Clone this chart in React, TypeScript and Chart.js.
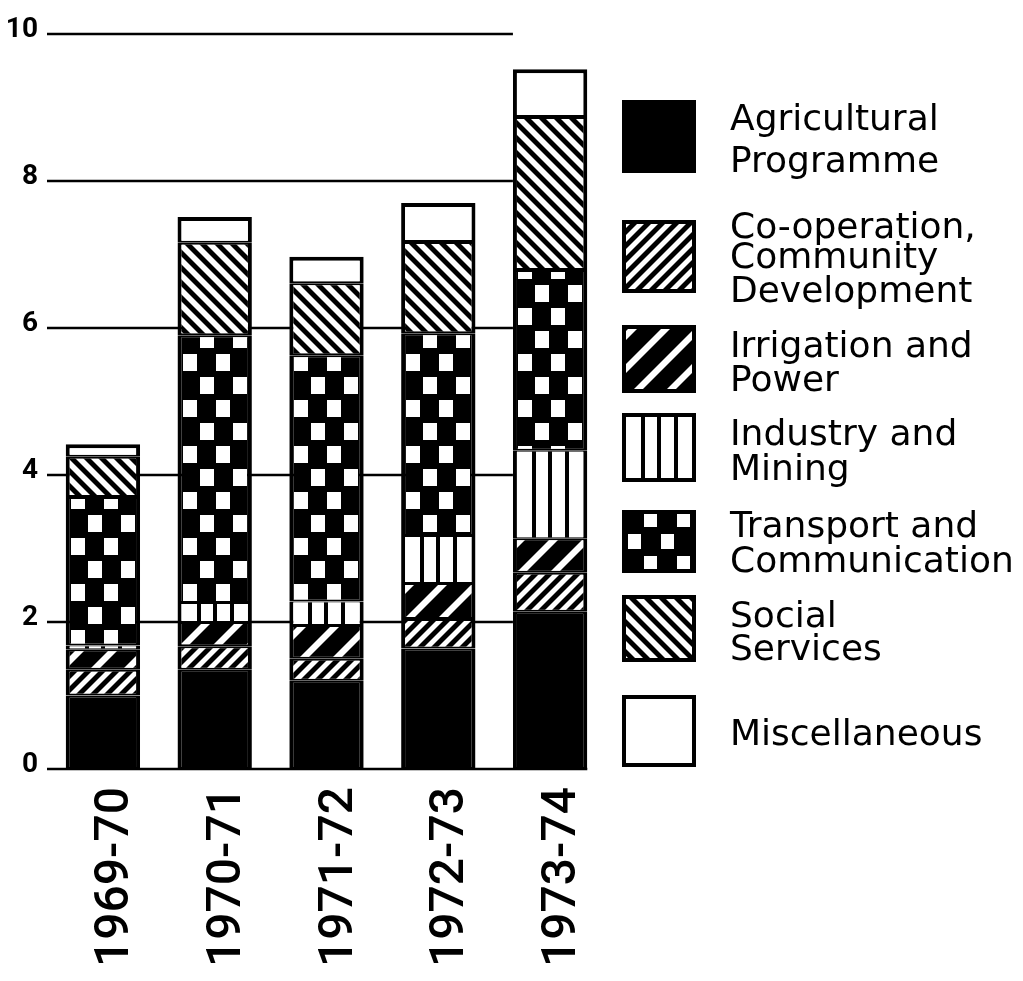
import React, { useEffect, useRef } from 'react';
import { Chart, registerables } from 'chart.js';

Chart.register(...registerables);

// ---------- data ----------
const years = ['1969-70', '1970-71', '1971-72', '1972-73', '1973-74'];
const agricultural = [1.0, 1.35, 1.2, 1.64, 2.14];
const cooperation = [0.35, 0.32, 0.3, 0.4, 0.53];
const irrigation = [0.28, 0.33, 0.46, 0.49, 0.47];
const industry = [0.05, 0.26, 0.32, 0.64, 1.19];
const transport = [2.02, 3.64, 3.35, 2.76, 2.46];
const social = [0.55, 1.26, 0.98, 1.24, 2.08];
const misc = [0.17, 0.35, 0.36, 0.53, 0.65];
const yTicks = [0, 2, 4, 6, 8, 10];
const legendLabels = [
  ['Agricultural', 'Programme'],
  ['Co-operation,', 'Community', 'Development'],
  ['Irrigation and', 'Power'],
  ['Industry and', 'Mining'],
  ['Transport and', 'Communication'],
  ['Social', 'Services'],
  ['Miscellaneous'],
];

// ---------- styling ----------
const BAR_PCT = 0.665;
const BLACK = '#000000';
const WHITE = '#ffffff';

function makeCanvas(w: number, h: number) {
  const c = document.createElement('canvas');
  const ww = Math.round(w);
  const hh = Math.round(h);
  c.width = isFinite(ww) && ww > 0 ? ww : 1;
  c.height = isFinite(hh) && hh > 0 ? hh : 1;
  return c;
}

function hatch(P: number, H: number, band: number, fg: string, bg: string, dir: number) {
  const c = makeCanvas(P, H);
  const g = c.getContext('2d')!;
  g.fillStyle = bg;
  g.fillRect(0, 0, P, H);
  g.fillStyle = fg;
  for (let k = -2; k <= 2; k++) {
    const x0 = k * P;
    g.beginPath();
    if (dir > 0) {
      g.moveTo(x0, H);
      g.lineTo(x0 + P, 0);
      g.lineTo(x0 + P + band, 0);
      g.lineTo(x0 + band, H);
    } else {
      g.moveTo(x0, 0);
      g.lineTo(x0 + P, H);
      g.lineTo(x0 + P + band, H);
      g.lineTo(x0 + band, 0);
    }
    g.closePath();
    g.fill();
  }
  return g.createPattern(c, 'repeat')!;
}

function verticalStripes(w: number, left: number) {
  const c = makeCanvas(w, 4);
  const g = c.getContext('2d')!;
  g.fillStyle = WHITE;
  g.fillRect(0, 0, c.width, 4);
  g.fillStyle = BLACK;
  const inner = c.width - 8;
  const col = inner / 4;
  for (let j = 1; j < 4; j++) {
    const x = 4 + j * col;
    g.fillRect(Math.round(x - 2), 0, 4, 4);
  }
  const p = g.createPattern(c, 'repeat')!;
  p.setTransform(new DOMMatrix([1, 0, 0, 1, Math.round(left), 0]));
  return p;
}

function checker(w: number, left: number, top: number, sqW: number, sqH: number, pitch: number) {
  const c = makeCanvas(w, pitch * 2);
  const g = c.getContext('2d')!;
  g.fillStyle = BLACK;
  g.fillRect(0, 0, c.width, c.height);
  g.fillStyle = WHITE;
  const inner = c.width - 8;
  const col = inner / 4;
  for (let r = 0; r < 2; r++) {
    const cols = r === 0 ? [1, 3] : [0, 2];
    const cy = r * pitch + pitch / 2;
    cols.forEach((j) => {
      const cx = 4 + (j + 0.5) * col;
      g.fillRect(Math.round(cx - sqW / 2), Math.round(cy - sqH / 2), sqW, sqH);
    });
  }
  const p = g.createPattern(c, 'repeat')!;
  p.setTransform(new DOMMatrix([1, 0, 0, 1, Math.round(left), Math.round(top)]));
  return p;
}

const coopPattern = hatch(14, 14, 7, BLACK, WHITE, 1);
const irrPattern = hatch(33, 33, 9, WHITE, BLACK, 1);
const socialPattern = hatch(15, 15, 7, BLACK, WHITE, -1);

function barGeom(chart: any, i: number) {
  const xs = chart.scales && chart.scales.x;
  if (!xs || !isFinite(xs.width) || xs.width <= 0) return null;
  const bw = (xs.width / years.length) * BAR_PCT;
  const left = xs.getPixelForValue(i) - bw / 2;
  if (!isFinite(bw) || !isFinite(left) || bw < 10) return null;
  return { left, bw };
}

const industryCache: Record<string, CanvasPattern> = {};
const transportCache: Record<string, CanvasPattern> = {};

function industryFill(ctx: any) {
  if (ctx.type !== 'data') return WHITE;
  const geo = barGeom(ctx.chart, ctx.dataIndex);
  if (!geo) return WHITE;
  const key = `${Math.round(geo.left)}_${Math.round(geo.bw)}`;
  if (!industryCache[key]) industryCache[key] = verticalStripes(geo.bw, geo.left);
  return industryCache[key];
}

function transportFill(ctx: any) {
  if (ctx.type !== 'data') return BLACK;
  const geo = barGeom(ctx.chart, ctx.dataIndex);
  if (!geo) return BLACK;
  const key = `${Math.round(geo.left)}_${Math.round(geo.bw)}`;
  if (!transportCache[key]) transportCache[key] = checker(geo.bw, geo.left, 6, 14, 17, 23);
  return transportCache[key];
}

const sideBorder = { left: 4, right: 4, top: 2, bottom: 2 };

// ---------- plugins ----------
const gridPlugin = {
  id: 'customGrid',
  beforeDatasetsDraw(chart: any) {
    const { ctx, chartArea, scales } = chart;
    const n = years.length;
    const last = barGeom(chart, n - 1);
    if (!last) return;
    const lastLeft = last.left;
    const lastRight = last.left + last.bw;
    ctx.save();
    ctx.strokeStyle = BLACK;
    ctx.lineWidth = 2.5;
    yTicks.forEach((v) => {
      const y = scales.y.getPixelForValue(v);
      ctx.beginPath();
      ctx.moveTo(chartArea.left, y);
      ctx.lineTo(v === 0 ? lastRight : lastLeft, y);
      ctx.stroke();
    });
    ctx.restore();
  },
};

const legendLayout = {
  swatchX: 622,
  swatchW: 74,
  tops: [100, 220, 325, 413, 510, 595, 695],
  heights: [73, 73, 68, 69, 63, 67, 72],
  textX: 730,
  baselines: [
    [130, 172],
    [238, 268, 302],
    [357, 391],
    [445, 480],
    [537, 572],
    [627, 660],
    [745],
  ],
};

const legendPlugin = {
  id: 'customLegend',
  afterDraw(chart: any) {
    const { ctx } = chart;
    const L = legendLayout;
    ctx.save();
    legendLabels.forEach((lines, i) => {
      const x = L.swatchX;
      const y = L.tops[i];
      const w = L.swatchW;
      const h = L.heights[i];
      let fill: any = WHITE;
      if (i === 0) fill = BLACK;
      else if (i === 1) fill = coopPattern;
      else if (i === 2) fill = irrPattern;
      else if (i === 3) fill = verticalStripes(w, x);
      else if (i === 4) fill = checker(w, x, y - 2, 13, 15, 22);
      else if (i === 5) fill = socialPattern;
      ctx.fillStyle = BLACK;
      ctx.fillRect(x, y, w, h);
      ctx.fillStyle = fill;
      ctx.fillRect(x + 4, y + 4, w - 8, h - 8);
      ctx.fillStyle = BLACK;
      ctx.font = '36px "DejaVu Sans"';
      ctx.textAlign = 'left';
      ctx.textBaseline = 'alphabetic';
      lines.forEach((t, k) => {
        ctx.fillText(t, L.textX, L.baselines[i][k]);
      });
    });
    ctx.restore();
  },
};

export default function App() {
  const ref = useRef<HTMLCanvasElement>(null);

  useEffect(() => {
    const canvas = ref.current!;
    const chart = new Chart(canvas, {
      type: 'bar',
      data: {
        labels: years,
        datasets: [
          { label: 'Agricultural Programme', data: agricultural, backgroundColor: BLACK, borderWidth: sideBorder },
          { label: 'Co-operation, Community Development', data: cooperation, backgroundColor: coopPattern, borderWidth: sideBorder },
          { label: 'Irrigation and Power', data: irrigation, backgroundColor: irrPattern, borderWidth: sideBorder },
          { label: 'Industry and Mining', data: industry, backgroundColor: industryFill, borderWidth: { left: 4, right: 4, top: 1, bottom: 1 } },
          { label: 'Transport and Communication', data: transport, backgroundColor: transportFill, borderWidth: sideBorder },
          { label: 'Social Services', data: social, backgroundColor: socialPattern, borderWidth: sideBorder },
          { label: 'Miscellaneous', data: misc, backgroundColor: WHITE, borderWidth: { left: 4, right: 4, top: 4, bottom: 2 } },
        ] as any,
      },
      options: {
        animation: false,
        responsive: true,
        maintainAspectRatio: false,
        layout: { padding: { top: 34, right: 417, bottom: 0, left: 0 } },
        datasets: {
          bar: {
            borderColor: BLACK,
            borderSkipped: false,
            categoryPercentage: 1,
            barPercentage: BAR_PCT,
          } as any,
        },
        plugins: {
          legend: { display: false },
          tooltip: { enabled: false },
          title: { display: false },
        },
        scales: {
          x: {
            stacked: true,
            grid: { display: false, drawTicks: false },
            border: { display: false },
            ticks: {
              color: BLACK,
              minRotation: 90,
              maxRotation: 90,
              padding: 18,
              labelOffset: 13,
              font: { family: 'Roboto', size: 48, weight: '500' },
            },
            afterFit: (s: any) => {
              s.height = 981 - 769;
            },
          },
          y: {
            stacked: true,
            min: 0,
            max: 10,
            grid: { display: false, drawTicks: false },
            border: { display: false },
            afterBuildTicks: (s: any) => {
              s.ticks = yTicks.map((v) => ({ value: v }));
            },
            ticks: {
              color: BLACK,
              padding: 9,
              labelOffset: -4,
              font: { family: 'Roboto', size: 28, weight: 'bold' },
            },
            afterFit: (s: any) => {
              s.width = 47;
            },
          },
        },
      } as any,
      plugins: [gridPlugin, legendPlugin],
    });
    return () => chart.destroy();
  }, []);

  return (
    <div style={{ position: 'absolute', left: 0, top: 0, width: 1023, height: 981, background: '#ffffff' }}>
      <canvas ref={ref} />
    </div>
  );
}
